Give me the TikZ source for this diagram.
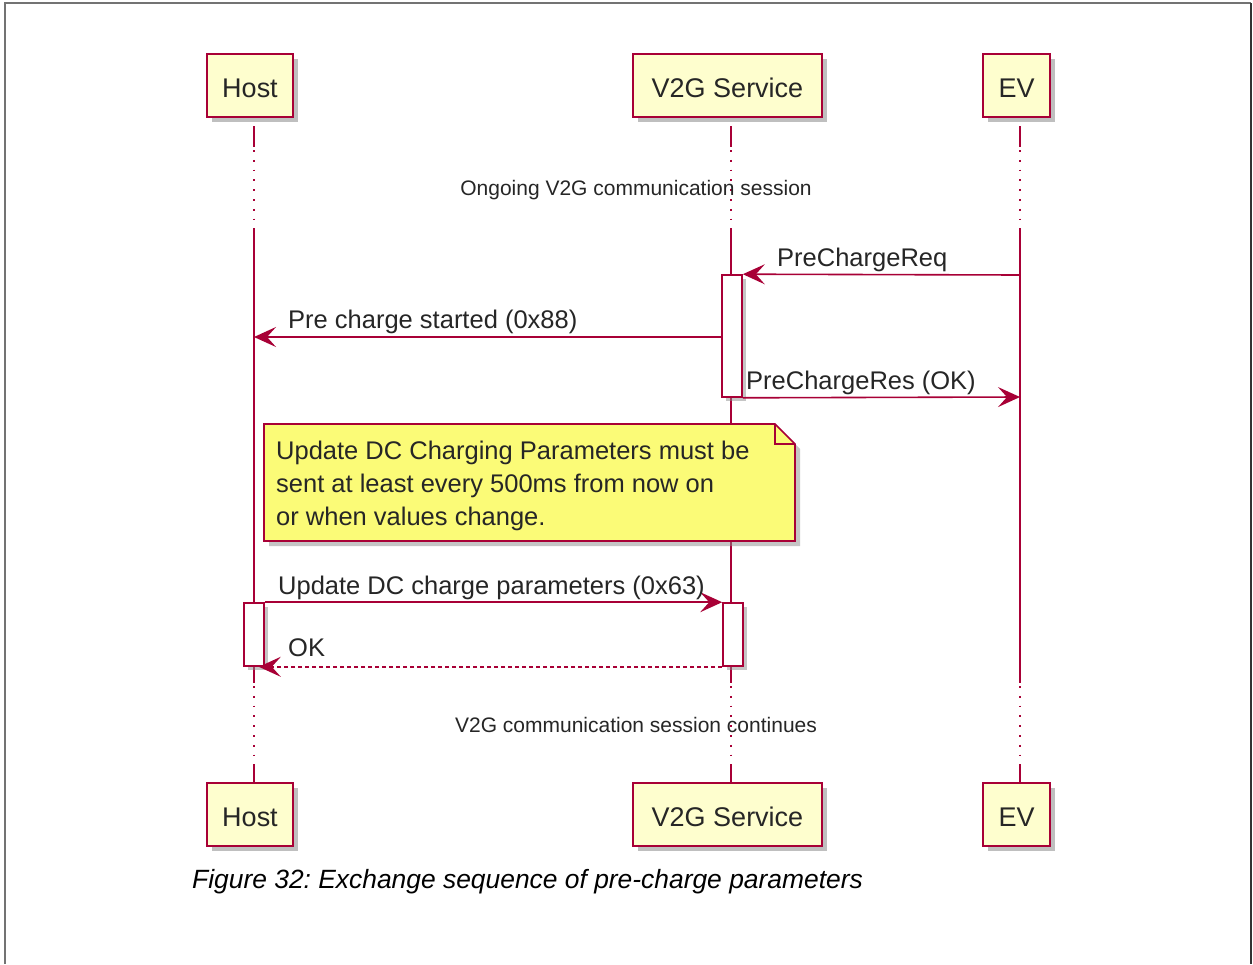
\documentclass[tikz,border=0pt]{standalone}
\usepackage{fontspec}
\setmainfont{Liberation Sans}
\usetikzlibrary{arrows.meta,shadows}
\definecolor{pu}{HTML}{A80036}
\definecolor{pfill}{HTML}{FEFECE}
\definecolor{nfill}{HTML}{FBFB77}
\frenchspacing
\begin{document}
\begin{tikzpicture}[x=1pt,y=-1pt,
  participant/.style={draw=pu,line width=2.6pt,fill=pfill,inner sep=0pt,minimum height=63pt,
    text height=24pt,text depth=0pt,
    font=\fontsize{27}{30}\selectfont,text=black!85,
    drop shadow={shadow xshift=5pt,shadow yshift=-5pt,fill=black!45,opacity=0.55}},
  actbar/.style={draw=pu,line width=1.6pt,fill=white,inner sep=0pt,minimum width=20pt,
    drop shadow={shadow xshift=4pt,shadow yshift=-4pt,fill=black!45,opacity=0.5}},
  life/.style={draw=pu,line width=1.6pt},
  lifedot/.style={draw=pu,line width=1.6pt,dash pattern=on 1.8pt off 8pt},
  msg/.style={draw=pu,line width=1.6pt,-{Stealth[length=22pt,width=20pt,inset=9pt]}},
  ret/.style={msg,dash pattern=on 4pt off 3pt},
  lbl/.style={anchor=base west,inner sep=0pt,font=\fontsize{25.5}{30}\selectfont,text=black!85},
  divtxt/.style={inner sep=0pt,font=\fontsize{21}{25}\selectfont,text=black!85}]
\useasboundingbox (0,0) rectangle (1253,964);
\fill[white] (0,0) rectangle (1253,964);
% frame
\draw[black!55,line width=2pt] (5,964) -- (5,3) -- (1251,3);
\draw[black!80,line width=2pt] (1251,3) -- (1251,964);

% lifelines
\foreach \x in {254,731,1020}{
  \draw[life] (\x,126) -- (\x,147);
  \draw[lifedot] (\x,150) -- (\x,230);
  \draw[life] (\x,230) -- (\x,683);
  \draw[lifedot] (\x,686) -- (\x,765);
  \draw[life] (\x,765) -- (\x,783);
}

% participants
\node[participant,minimum width=86pt] (hostTop) at (250,85.5) {Host};
\node[participant,minimum width=189pt] (v2gTop) at (727.5,85.5) {V2G Service};
\node[participant,minimum width=67pt] (evTop) at (1016.5,85.5) {EV};
\node[participant,minimum width=86pt] (hostBot) at (250,814.5) {Host};
\node[participant,minimum width=189pt] (v2gBot) at (727.5,814.5) {V2G Service};
\node[participant,minimum width=67pt] (evBot) at (1016.5,814.5) {EV};

% dividers
\node[divtxt] (div1) at (636,190) {Ongoing V2G communication session};
\node[divtxt] (div2) at (636,725) {V2G communication session continues};

% activation bars
\node[actbar,minimum height=122pt] (bar1) at (732,336) {};
\node[actbar,minimum height=63pt] (bar2) at (733,634.5) {};
\node[actbar,minimum height=63pt] (hostbar) at (254,634.5) {};

% note
\coordinate (nTL) at (264,424);
\coordinate (nBR) at (795,541);
\fill[black!45,opacity=0.5] (269,429) -- (780,429) -- (800,449) -- (800,546) -- (269,546) -- cycle;
\draw[pu,line width=1.6pt,fill=nfill] (nTL) -- (775,424) -- (795,444) -- (nBR) -- (264,541) -- cycle;
\draw[pu,line width=1.6pt] (775,424) -- (775,444) -- (795,444);
\node[anchor=north west,inner sep=0pt,align=left,font=\fontsize{25.5}{33}\selectfont,text=black!85] (note) at (276,441)
  {Update DC Charging Parameters must be\\sent at least every 500ms from now on\\or when values change.};

% messages
\coordinate (evA) at (1020,275);
\coordinate (hostA) at (254,337);
\coordinate (evB) at (1020,397);
\draw[msg] (evA) -- (bar1.north east);
\draw[msg] (bar1.west |- hostA) -- (hostA);
\draw[msg] (bar1.south east) -- (evB);
\draw[msg] (hostbar.north east) -- (bar2.north west);
\draw[ret] (bar2.south west) -- ([xshift=-6pt]hostbar.south east);

\node[lbl] (l1) at (777,266) {PreChargeReq};
\node[lbl] (l2) at (288,328) {Pre charge started (0x88)};
\node[lbl] (l3) at (746,389) {PreChargeRes (OK)};
\node[lbl] (l4) at (278,594) {Update DC charge parameters (0x63)};
\node[lbl] (l5) at (288,656) {OK};

% caption
\node[anchor=base west,inner sep=0pt,font=\fontsize{26.4}{30}\selectfont\itshape] (cap) at (192,888)
  {Figure 32: Exchange sequence of pre-charge parameters};
\end{tikzpicture}
\end{document}
